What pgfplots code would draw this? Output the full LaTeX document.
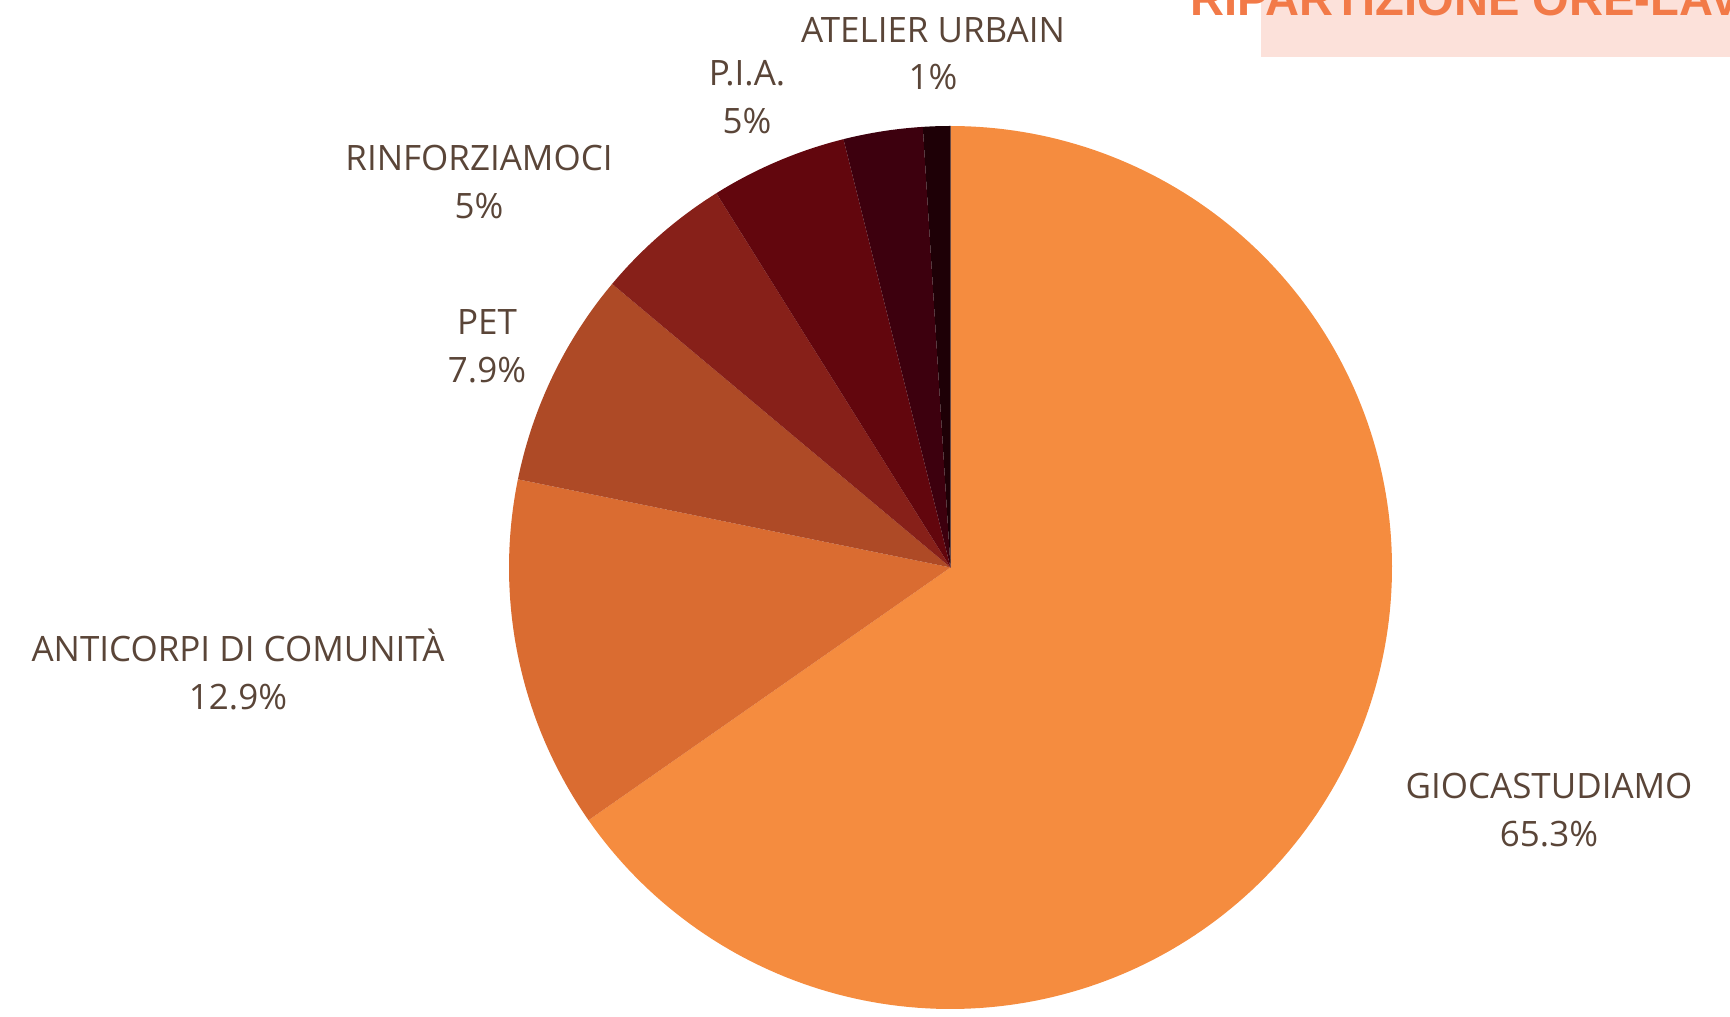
\documentclass[border=0pt]{standalone}
\usepackage{pgfplots}
\pgfplotsset{compat=1.18}
\usepackage{fontspec}
\setmainfont{Open Sans}
\newfontfamily\titlefont{Liberation Sans}
\definecolor{cGioca}{HTML}{F58C3F}
\definecolor{cAnti}{HTML}{DA6C31}
\definecolor{cPet}{HTML}{AE4A26}
\definecolor{cRinf}{HTML}{872019}
\definecolor{cPia}{HTML}{62060D}
\definecolor{cOther}{HTML}{3D000E}
\definecolor{cAtel}{HTML}{1E0006}
\definecolor{lbl}{HTML}{5A4538}
\definecolor{ttl}{HTML}{F27A48}
\definecolor{ttlbg}{HTML}{FCE1DA}
% percentages (clockwise from 12 o'clock)
\def\pA{65.3}\def\pB{12.9}\def\pC{7.9}\def\pD{5}\def\pE{5}\def\pF{2.9}\def\pG{1}
\begin{document}
\begin{tikzpicture}
\useasboundingbox (0,0) rectangle (17.3cm,10.17cm);
\begin{axis}[
  at={(0,0)}, anchor=south west,
  scale only axis, width=17.3cm, height=10.17cm,
  xmin=0, xmax=1730, ymin=0, ymax=1017,
  hide axis, clip=false,
]
\def\cx{950.5}\def\cy{449.5}\def\r{441.5}
% cumulative angles
\pgfmathsetmacro{\aA}{90}
\pgfmathsetmacro{\aB}{90-3.6*\pA}
\pgfmathsetmacro{\aC}{\aB-3.6*\pB}
\pgfmathsetmacro{\aD}{\aC-3.6*\pC}
\pgfmathsetmacro{\aE}{\aD-3.6*\pD}
\pgfmathsetmacro{\aF}{\aE-3.6*\pE}
\pgfmathsetmacro{\aG}{\aF-3.6*\pF}
\pgfmathsetmacro{\aH}{\aG-3.6*\pG}
\edef\slices{%
\noexpand\addplot[fill=cGioca, draw=none, domain=\aB:\aA, samples=200] ({\cx+\r*cos(x)},{\cy+\r*sin(x)}) -- (axis cs:\cx,\cy) -- cycle;
\noexpand\addplot[fill=cAnti, draw=none, domain=\aC:\aB, samples=60] ({\cx+\r*cos(x)},{\cy+\r*sin(x)}) -- (axis cs:\cx,\cy) -- cycle;
\noexpand\addplot[fill=cPet, draw=none, domain=\aD:\aC, samples=40] ({\cx+\r*cos(x)},{\cy+\r*sin(x)}) -- (axis cs:\cx,\cy) -- cycle;
\noexpand\addplot[fill=cRinf, draw=none, domain=\aE:\aD, samples=30] ({\cx+\r*cos(x)},{\cy+\r*sin(x)}) -- (axis cs:\cx,\cy) -- cycle;
\noexpand\addplot[fill=cPia, draw=none, domain=\aF:\aE, samples=30] ({\cx+\r*cos(x)},{\cy+\r*sin(x)}) -- (axis cs:\cx,\cy) -- cycle;
\noexpand\addplot[fill=cOther, draw=none, domain=\aG:\aF, samples=20] ({\cx+\r*cos(x)},{\cy+\r*sin(x)}) -- (axis cs:\cx,\cy) -- cycle;
\noexpand\addplot[fill=cAtel, draw=none, domain=\aH:\aG, samples=10] ({\cx+\r*cos(x)},{\cy+\r*sin(x)}) -- (axis cs:\cx,\cy) -- cycle;
}
\slices
% title (cut off at top edge, as in the source)
\fill[ttlbg] (axis cs:1261,960) rectangle (axis cs:1760,1030);
\node[anchor=base west, inner sep=0pt, text=ttl, font=\titlefont\bfseries\fontsize{13.4pt}{15pt}\selectfont]
  at (axis cs:1190,1001) {RIPARTIZIONE ORE-LAVORO};
% labels
\tikzset{lab/.style={align=center, text=lbl, inner sep=0pt, anchor=base,
  font=\fontsize{9.95pt}{13.66pt}\selectfont}}
\node[lab] at (axis cs:933,974) {ATELIER URBAIN};
\node[lab] at (axis cs:933,927) {1\%};
\node[lab] at (axis cs:747,931) {P.I.A.};
\node[lab] at (axis cs:747,883) {5\%};
\node[lab] at (axis cs:479,846) {RINFORZIAMOCI};
\node[lab] at (axis cs:479,798) {5\%};
\node[lab] at (axis cs:487,682) {PET};
\node[lab] at (axis cs:487,634) {7.9\%};
\node[lab] at (axis cs:238,355) {ANTICORPI DI COMUNITÀ};
\node[lab] at (axis cs:238,307) {12.9\%};
\node[lab] at (axis cs:1549,218) {GIOCASTUDIAMO};
\node[lab] at (axis cs:1549,170) {65.3\%};
\end{axis}
\end{tikzpicture}
\end{document}
